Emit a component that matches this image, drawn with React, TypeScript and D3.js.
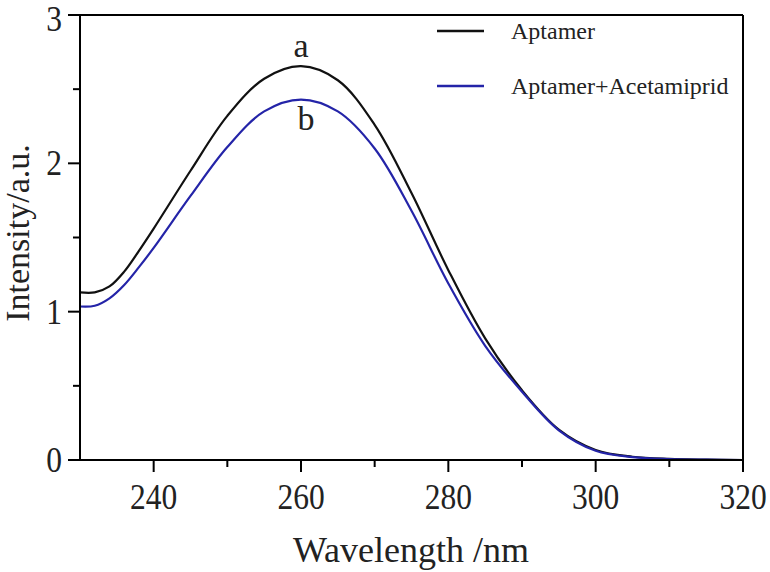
import React from "react";
import * as d3 from "d3";

const wavelengths = [230, 232, 234, 236, 238, 240, 245, 250, 255, 260, 265, 270, 275, 280, 285, 290, 295, 300, 305, 310, 315, 320];
const aptamer = [1.13, 1.13, 1.17, 1.27, 1.41, 1.56, 1.95, 2.32, 2.57, 2.655, 2.56, 2.26, 1.80, 1.28, 0.82, 0.47, 0.205, 0.068, 0.022, 0.007, 0.002, 0.0];
const aptamerAcet = [1.035, 1.04, 1.09, 1.18, 1.30, 1.43, 1.78, 2.11, 2.35, 2.43, 2.35, 2.10, 1.68, 1.19, 0.77, 0.46, 0.20, 0.062, 0.02, 0.006, 0.002, 0.0];
const xTicks = [240, 260, 280, 300, 320];
const xMinor = [250, 270, 290, 310];
const yTicks = [0, 1, 2, 3];
const yMinor = [0.5, 1.5, 2.5];
const seriesNames = ["Aptamer", "Aptamer+Acetamiprid"];
const seriesColors = ["#111111", "#2424a8"];

const FONT = "'Liberation Serif', 'Times New Roman', Times, serif";

export default function App() {
  const W = 770, H = 572;
  const left = 80, right = 743, top = 15, bottom = 460;
  const x = d3.scaleLinear().domain([230, 320]).range([left, right]);
  const y = d3.scaleLinear().domain([0, 3]).range([bottom, top]);
  const line = d3.line<number>()
    .x((_, i) => x(wavelengths[i]))
    .y((d) => y(d))
    .curve(d3.curveCatmullRom.alpha(0.5));
  const series = [aptamer, aptamerAcet];

  return (
    <svg width={W} height={H} style={{ position: "absolute", left: 0, top: 0, background: "#fff" }}>
      <defs>
        <clipPath id="plot">
          <rect x={left} y={top} width={right - left} height={bottom - top} />
        </clipPath>
      </defs>
      <g clipPath="url(#plot)">
        {series.map((s, i) => (
          <path key={i} d={line(s) || ""} fill="none" stroke={seriesColors[i]} strokeWidth={2.2} />
        ))}
      </g>
      {/* frame */}
      <line x1={left} x2={right} y1={top} y2={top} stroke="#000" strokeWidth={2} />
      <line x1={right} x2={right} y1={top} y2={bottom} stroke="#000" strokeWidth={2} />
      <line x1={left} x2={left} y1={top - 1} y2={bottom + 1} stroke="#000" strokeWidth={2} />
      <line x1={left - 1} x2={right + 1} y1={bottom} y2={bottom} stroke="#000" strokeWidth={2} />
      {/* x ticks */}
      {xTicks.map((t) => (
        <g key={"xt" + t}>
          <line x1={x(t)} x2={x(t)} y1={bottom} y2={bottom + 12} stroke="#000" strokeWidth={2} />
          <text transform={`translate(${x(t)},509) scale(0.9,1)`} textAnchor="middle" fontFamily={FONT} fontSize={35} fill="#222">{t}</text>
        </g>
      ))}
      {xMinor.map((t) => (
        <line key={"xm" + t} x1={x(t)} x2={x(t)} y1={bottom} y2={bottom + 7} stroke="#000" strokeWidth={2} />
      ))}
      {/* y ticks */}
      {yTicks.map((t) => (
        <g key={"yt" + t}>
          <line x1={left - 12} x2={left} y1={y(t)} y2={y(t)} stroke="#000" strokeWidth={2} />
          <text transform={`translate(62,${Math.max(y(t) + 12, 31)}) scale(0.9,1)`} textAnchor="end" fontFamily={FONT} fontSize={35} fill="#222">{t}</text>
        </g>
      ))}
      {yMinor.map((t) => (
        <line key={"ym" + t} x1={left - 7} x2={left} y1={y(t)} y2={y(t)} stroke="#000" strokeWidth={2} />
      ))}
      {/* axis titles */}
      <text x={411} y={562} textAnchor="middle" fontFamily={FONT} fontSize={36} fill="#222">Wavelength /nm</text>
      <text transform="translate(29,233) rotate(-90)" textAnchor="middle" fontFamily={FONT} fontSize={34} fill="#222">Intensity/a.u.</text>
      {/* peak labels */}
      <text x={x(260)} y={57} textAnchor="middle" fontFamily={FONT} fontSize={34} fill="#222">a</text>
      <text x={x(260) + 5} y={130} textAnchor="middle" fontFamily={FONT} fontSize={34} fill="#222">b</text>
      {/* legend */}
      {seriesNames.map((n, i) => {
        const ly = i === 0 ? 31 : 86;
        return (
          <g key={n}>
            <line x1={437} x2={484} y1={ly} y2={ly} stroke={seriesColors[i]} strokeWidth={2.5} />
            <text x={511} y={ly + 8} fontFamily={FONT} fontSize={24} fill="#222">{n}</text>
          </g>
        );
      })}
    </svg>
  );
}
